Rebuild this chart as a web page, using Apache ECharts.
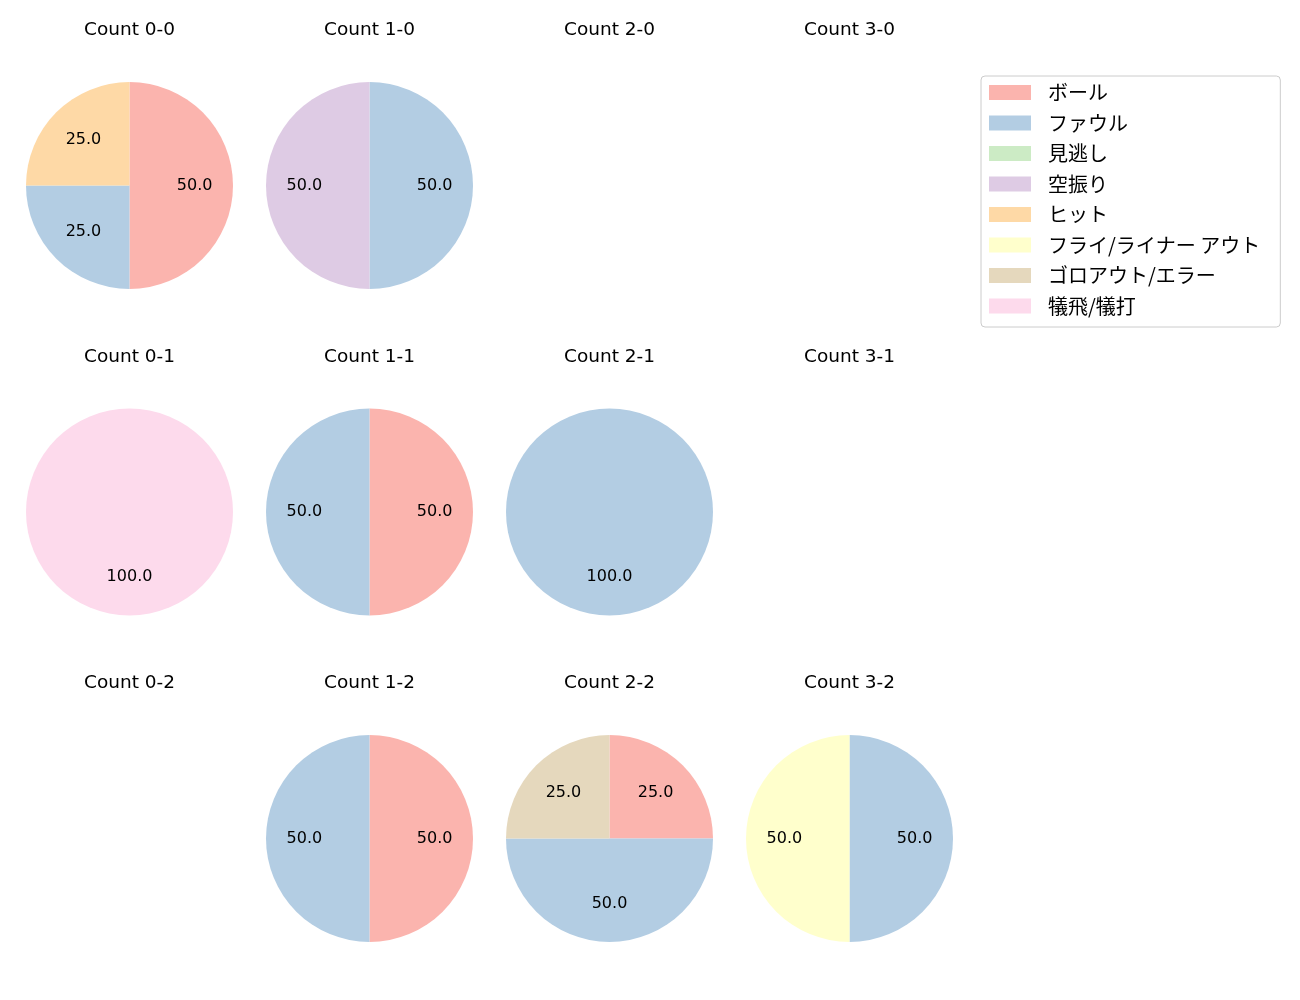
<!DOCTYPE html>
<html>
<head>
<meta charset="utf-8">
<script src="https://cdn.jsdelivr.net/npm/echarts@6/dist/echarts.min.js"></script>
<style>html,body{margin:0;padding:0;background:#fff}#c{width:1300px;height:1000px}</style>
</head>
<body>
<div id="c"></div>
<script>
const categories = ['ボール','ファウル','見逃し','空振り','ヒット','フライ/ライナー アウト','ゴロアウト/エラー','犠飛/犠打'];
const colors = ['#fbb4ae','#b3cde3','#ccebc5','#decbe4','#fed9a6','#ffffcc','#e5d8bd','#fddaec'];
const countTitles = ['Count 0-0','Count 1-0','Count 2-0','Count 3-0','Count 0-1','Count 1-1','Count 2-1','Count 3-1','Count 0-2','Count 1-2','Count 2-2','Count 3-2'];
// values per count, in category order (percent)
const count00 = [50,25,0,0,25,0,0,0];
const count10 = [0,50,0,50,0,0,0,0];
const count20 = [];
const count30 = [];
const count01 = [0,0,0,0,0,0,0,100];
const count11 = [50,50,0,0,0,0,0,0];
const count21 = [0,100,0,0,0,0,0,0];
const count31 = [];
const count02 = [];
const count12 = [50,50,0,0,0,0,0,0];
const count22 = [25,50,0,0,0,0,25,0];
const count32 = [0,50,0,0,0,50,0,0];
const countValues = [count00,count10,count20,count30,count01,count11,count21,count31,count02,count12,count22,count32];

const colX = [129.5, 369.5, 609.5, 849.5];
const rowY = [185.5, 512, 838.5];
const titleY = [30, 357, 683];
const R = 103.5;
const LATIN = "'DejaVu Sans', 'Noto Sans CJK JP', sans-serif";
const CJK = "'Noto Sans CJK JP', 'DejaVu Sans', sans-serif";

const series = [];
const graphics = [];
countValues.forEach((vals, i) => {
  const col = i % 4, row = Math.floor(i / 4);
  const cx = colX[col], cy = rowY[row];
  graphics.push({type:'text', x: cx, y: titleY[row], style:{text: countTitles[i], x:0, y:0, align:'center', verticalAlign:'middle', fill:'#000', font: '18.5px ' + LATIN}});
  if (!vals.length) return;
  const data = categories.map((c, k) => ({name: c, value: vals[k] || 0, itemStyle:{color: colors[k]}}));
  series.push({
    type:'pie', center:[cx, cy], radius:[0, R], startAngle:90, clockwise:true,
    data, label:{show:false}, labelLine:{show:false}, itemStyle:{borderWidth:0},
    emphasis:{disabled:true}, animation:false
  });
  series.push({
    type:'pie', center:[cx, cy], radius:[0, R*1.2], startAngle:90, clockwise:true, silent:true,
    data: categories.map((c, k) => ({name: c, value: vals[k] || 0})),
    itemStyle:{color:'rgba(0,0,0,0)', borderWidth:0},
    label:{show:true, position:'inside', color:'#000', fontSize:16, fontFamily: LATIN,
      formatter: p => p.value > 0 ? p.percent.toFixed(1) : ''},
    labelLine:{show:false}, emphasis:{disabled:true}, animation:false, legendHoverLink:false
  });
});

const chart = echarts.init(document.getElementById('c'), null, {renderer:'canvas'});
chart.setOption({
  backgroundColor:'#fff',
  animation:false,
  legend:{
    data: categories, orient:'vertical', left:981, top:76,
    itemWidth:42, itemHeight:15, itemGap:10.5, icon:'rect',
    padding:[6.5,20,11,8], backgroundColor:'#fff', borderColor:'#cccccc', borderWidth:1, borderRadius:4,
    textStyle:{fontSize:20, fontFamily: CJK, color:'#000', padding:[0,0,0,12], lineHeight:20},
    selectedMode:false
  },
  graphic: graphics,
  series
});
</script>
</body>
</html>
